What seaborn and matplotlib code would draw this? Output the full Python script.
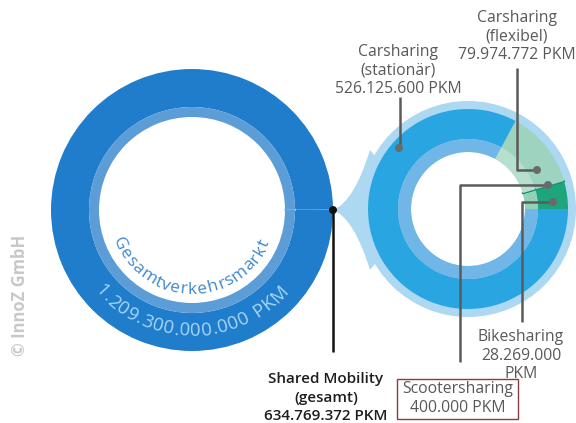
import numpy as np
import matplotlib
matplotlib.use("Agg")
import matplotlib.pyplot as plt
import seaborn as sns
from matplotlib.patches import Circle, Rectangle, PathPatch
from matplotlib.path import Path

# ---------------- data ----------------
total_market_label = "Gesamtverkehrsmarkt"
total_market_value = 1209300000000          # PKM
total_market_text = "1.209.300.000.000 PKM"

shared_label = ["Shared Mobility", "(gesamt)", "634.769.372 PKM"]
shared_value = 634769372

segments = ["Bikesharing", "Scootersharing", "Carsharing (flexibel)", "Carsharing (stationär)"]
segment_values = [28269000, 400000, 79974772, 526125600]
segment_labels = [
    ["Bikesharing", "28.269.000", "PKM"],
    ["Scootersharing", "400.000 PKM"],
    ["Carsharing", "(flexibel)", "79.974.772 PKM"],
    ["Carsharing", "(stationär)", "526.125.600 PKM"],
]
main_colors = ["#1ea57d", "#1b8f6c", "#9dd3bf", "#29a6e1"]
band_colors = ["#93d1b9", "#1b8f6c", "#b6dfce", "#70b6e7"]

# ---------------- setup ----------------
sns.set_theme(style="white")
plt.rcParams["font.family"] = ["Open Sans", "DejaVu Sans"]

W, H = 576, 423
fig = plt.figure(figsize=(W / 100, H / 100), dpi=100)
ax = fig.add_axes([0, 0, 1, 1])


def P(x, py):
    return (x, H - py)


LC = P(192, 210)   # left ring centre
RC = P(468, 209)   # right ring centre

# ---------------- left ring ----------------
left_vals = [shared_value, total_market_value - shared_value]
w1, _ = ax.pie(left_vals, radius=141, center=LC, startangle=0, counterclock=True,
               colors=["#a3d4f3", "#1f7dcc"], wedgeprops=dict(width=38, linewidth=0))
w2, _ = ax.pie(left_vals, radius=103, center=LC, startangle=0, counterclock=True,
               colors=["#a3d4f3", "#5c9dd8"], wedgeprops=dict(width=10, linewidth=0))
for w in (w1[0], w2[0]):
    w.set_edgecolor("#a3d4f3")
    w.set_linewidth(1.3)

# ---------------- funnel + halo ----------------
halo_col = "#acd8f1"
p0 = P(333, 210)
verts = [p0, P(354, 202), P(370, 150), P(420, 209), P(370, 270), P(354, 218), p0]
codes = [Path.MOVETO, Path.CURVE3, Path.CURVE3, Path.LINETO, Path.LINETO,
         Path.CURVE3, Path.CURVE3]
ax.add_patch(PathPatch(Path(verts, codes), facecolor=halo_col, edgecolor="none", zorder=0.5))
ax.add_patch(Circle(RC, 108, facecolor=halo_col, edgecolor="none", zorder=0.6))

# ---------------- right ring ----------------
r1, _ = ax.pie(segment_values, radius=100, center=RC, startangle=0, counterclock=True,
               colors=main_colors, wedgeprops=dict(width=30, linewidth=0))
r2, _ = ax.pie(segment_values, radius=70, center=RC, startangle=0, counterclock=True,
               colors=band_colors, wedgeprops=dict(width=13, linewidth=0))
for w in (r1[1], r2[1]):
    w.set_edgecolor("#1b8f6c")
    w.set_linewidth(1.3)
for w in list(w1) + list(w2) + list(r1) + list(r2):
    w.set_zorder(1)
ax.add_patch(Circle(RC, 57, facecolor="white", edgecolor="none", zorder=0.8))

ax.set_xlim(0, W)
ax.set_ylim(0, H)
ax.set_aspect("equal")
ax.axis("off")

# ---------------- curved text ----------------
renderer = fig.canvas.get_renderer()


def arc_text(s, center, r, a_start, a_end, size, color, weight="normal"):
    widths = []
    for ch in s:
        if ch == " ":
            widths.append(0.28 * size * 100 / 72)
            continue
        t = ax.text(0, 0, ch, fontsize=size, fontweight=weight)
        widths.append(t.get_window_extent(renderer).width)
        t.remove()
    widths = np.array(widths)
    pos = np.cumsum(widths) - widths / 2
    n = len(s)
    target = np.deg2rad(a_end - a_start) * r
    track = (target - (pos[-1] - pos[0])) / (n - 1)
    pos = pos + np.arange(n) * track
    for ch, p in zip(s, pos):
        a = a_start + np.rad2deg((p - pos[0]) / r)
        x = center[0] + r * np.cos(np.deg2rad(a))
        y = center[1] + r * np.sin(np.deg2rad(a))
        ax.text(x, y, ch, fontsize=size, color=color, rotation=a + 90,
                ha="center", va="center", rotation_mode="anchor",
                fontweight=weight, zorder=3)


arc_text(total_market_label, LC, 80, 205, 335, 12.5, "#3f88cf")
arc_text(total_market_text, LC, 121, 222, 316, 13.5, "#a6d6f6")

# ---------------- labels & leaders ----------------
lab_col = "#595959"
line_col = "#5b5b5b"


def lines(txts, x, y0, step, size=11.3, color=lab_col, weight="normal"):
    for i, t in enumerate(txts):
        ax.text(*P(x, y0 + i * step), t, ha="center", va="center", fontsize=size,
                color=color, fontweight=weight, zorder=4)


def leader(pts, col=line_col, dot=None, dotcol="#6a6a6a", lw=1.8):
    xs, ys = zip(*[P(*p) for p in pts])
    ax.plot(xs, ys, color=col, lw=lw, zorder=4, solid_capstyle="butt")
    if dot is not None:
        ax.add_patch(Circle(P(*dot), 4, facecolor=dotcol, edgecolor="none", zorder=5))


# shared mobility
leader([(333, 210), (333, 352)], col="#111111", dot=(333, 210), dotcol="#111111")
lines(shared_label, 326, 379, 18.5, size=11, color="#1e1e1e", weight="semibold")

# carsharing stationär
leader([(400, 97), (400, 148)], dot=(399, 148))
lines(segment_labels[3], 398, 52, 18.5)

# carsharing flexibel
leader([(517, 68), (517, 170), (537, 170)], dot=(537, 170))
lines(segment_labels[2], 517, 18, 18.5)

# scootersharing
leader([(548, 185), (460, 185), (460, 362)], dot=(548, 185))
ax.add_patch(Rectangle(P(397, 419), 121, 40, facecolor="white", edgecolor="#8a3b3b",
                       lw=1.0, zorder=3.5))
lines(segment_labels[1], 458, 389, 19)

# bikesharing
leader([(553, 202), (522, 202), (522, 322)], dot=(553, 202))
lines(segment_labels[0], 521, 337, 18.5)

# watermark
ax.text(*P(20, 295), "© InnoZ GmbH", rotation=90, ha="center", va="center",
        fontsize=12, color="#c8c8c8", fontweight="bold")

fig.savefig("out.png", dpi=100)
